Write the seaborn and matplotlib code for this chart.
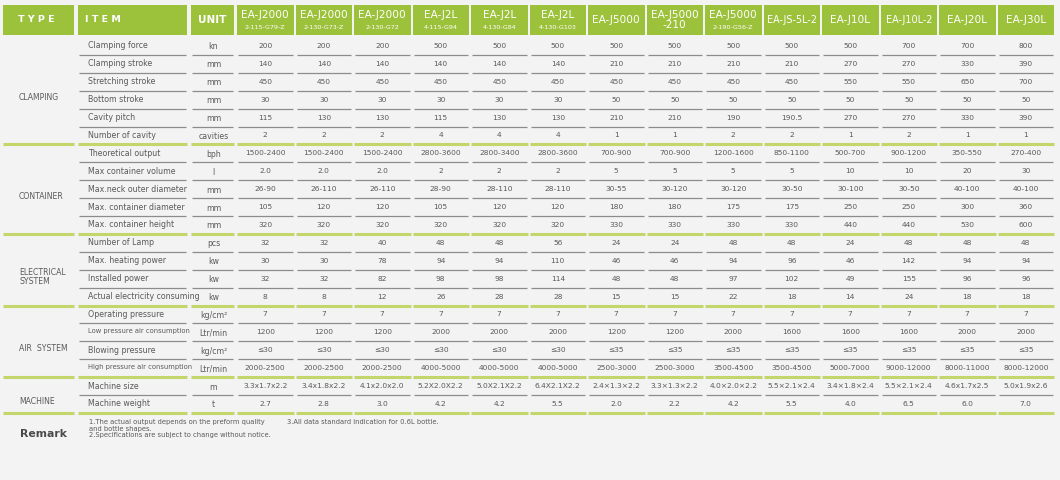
import matplotlib
matplotlib.use("Agg")
import matplotlib.pyplot as plt
from matplotlib.patches import Rectangle
import seaborn as sns
import numpy as np

# ---------------- data ----------------
models = ["EA-J2000", "EA-J2000", "EA-J2000", "EA-J2L", "EA-J2L", "EA-J2L", "EA-J5000",
          "EA-J5000\n-210", "EA-J5000", "EA-JS-5L-2", "EA-J10L", "EA-J10L-2", "EA-J20L", "EA-J30L"]
model_subs = ["2-115-G79-Z", "2-130-G73-Z", "2-130-G72", "4-115-G94", "4-130-G84", "4-130-G103",
              "", "", "2-190-G56-Z", "", "", "", "", ""]

groups = ["CLAMPING", "CONTAINER", "ELECTRICAL\nSYSTEM", "AIR  SYSTEM", "MACHINE"]
group_sizes = [6, 5, 4, 4, 2]

items = ["Clamping force", "Clamping stroke", "Stretching stroke", "Bottom stroke", "Cavity pitch",
         "Number of cavity",
         "Theoretical output", "Max container volume", "Max.neck outer diameter",
         "Max. container diameter", "Max. container height",
         "Number of Lamp", "Max. heating power", "Installed power", "Actual electricity consuming",
         "Operating pressure", "Low pressure air consumption", "Blowing pressure",
         "High pressure air consumption",
         "Machine size", "Machine weight"]
units = ["kn", "mm", "mm", "mm", "mm", "cavities",
         "bph", "l", "mm", "mm", "mm",
         "pcs", "kw", "kw", "kw",
         "kg/cm²", "Ltr/min", "kg/cm²", "Ltr/min",
         "m", "t"]

clamping_force = ["200", "200", "200", "500", "500", "500", "500", "500", "500", "500", "500", "700", "700", "800"]
clamping_stroke = ["140", "140", "140", "140", "140", "140", "210", "210", "210", "210", "270", "270", "330", "390"]
stretching_stroke = ["450", "450", "450", "450", "450", "450", "450", "450", "450", "450", "550", "550", "650", "700"]
bottom_stroke = ["30", "30", "30", "30", "30", "30", "50", "50", "50", "50", "50", "50", "50", "50"]
cavity_pitch = ["115", "130", "130", "115", "130", "130", "210", "210", "190", "190.5", "270", "270", "330", "390"]
num_cavity = ["2", "2", "2", "4", "4", "4", "1", "1", "2", "2", "1", "2", "1", "1"]
theoretical_output = ["1500-2400", "1500-2400", "1500-2400", "2800-3600", "2800-3400", "2800-3600", "700-900",
                      "700-900", "1200-1600", "850-1100", "500-700", "900-1200", "350-550", "270-400"]
container_volume = ["2.0", "2.0", "2.0", "2", "2", "2", "5", "5", "5", "5", "10", "10", "20", "30"]
neck_diameter = ["26-90", "26-110", "26-110", "28-90", "28-110", "28-110", "30-55", "30-120", "30-120",
                 "30-50", "30-100", "30-50", "40-100", "40-100"]
container_diameter = ["105", "120", "120", "105", "120", "120", "180", "180", "175", "175", "250", "250", "300", "360"]
container_height = ["320", "320", "320", "320", "320", "320", "330", "330", "330", "330", "440", "440", "530", "600"]
num_lamp = ["32", "32", "40", "48", "48", "56", "24", "24", "48", "48", "24", "48", "48", "48"]
heating_power = ["30", "30", "78", "94", "94", "110", "46", "46", "94", "96", "46", "142", "94", "94"]
installed_power = ["32", "32", "82", "98", "98", "114", "48", "48", "97", "102", "49", "155", "96", "96"]
actual_consuming = ["8", "8", "12", "26", "28", "28", "15", "15", "22", "18", "14", "24", "18", "18"]
operating_pressure = ["7", "7", "7", "7", "7", "7", "7", "7", "7", "7", "7", "7", "7", "7"]
low_air = ["1200", "1200", "1200", "2000", "2000", "2000", "1200", "1200", "2000", "1600", "1600", "1600",
           "2000", "2000"]
blowing_pressure = ["≤30", "≤30", "≤30", "≤30", "≤30", "≤30", "≤35", "≤35", "≤35", "≤35", "≤35", "≤35",
                    "≤35", "≤35"]
high_air = ["2000-2500", "2000-2500", "2000-2500", "4000-5000", "4000-5000", "4000-5000", "2500-3000",
            "2500-3000", "3500-4500", "3500-4500", "5000-7000", "9000-12000", "8000-11000", "8000-12000"]
machine_size = ["3.3x1.7x2.2", "3.4x1.8x2.2", "4.1x2.0x2.0", "5.2X2.0X2.2", "5.0X2.1X2.2", "6.4X2.1X2.2",
                "2.4×1.3×2.2", "3.3×1.3×2.2", "4.0×2.0×2.2", "5.5×2.1×2.4", "3.4×1.8×2.4", "5.5×2.1×2.4",
                "4.6x1.7x2.5", "5.0x1.9x2.6"]
machine_weight = ["2.7", "2.8", "3.0", "4.2", "4.2", "5.5", "2.0", "2.2", "4.2", "5.5", "4.0", "6.5", "6.0", "7.0"]

values = [clamping_force, clamping_stroke, stretching_stroke, bottom_stroke, cavity_pitch, num_cavity,
          theoretical_output, container_volume, neck_diameter, container_diameter, container_height,
          num_lamp, heating_power, installed_power, actual_consuming,
          operating_pressure, low_air, blowing_pressure, high_air,
          machine_size, machine_weight]

remark_left = ("1.The actual output depends on the preform quality\n"
               "and bottle shapes.\n"
               "2.Specifications are subject to change without notice.")
remark_right = "3.All data standard indication for 0.6L bottle."

# ---------------- style ----------------
sns.set_theme(style="white")
plt.rcParams["font.family"] = ["DejaVu Sans"]

GREEN = "#9cc13b"
LINE_GREEN = "#c3d66a"
GREY_LINE = "#8c8c8c"
TXT = "#5a5a5a"
BG = "#f3f3f3"

# layout (pixel-like canvas)
W, H = 1060, 480
fig = plt.figure(figsize=(W / 100, H / 100), dpi=100)
fig.patch.set_facecolor(BG)
ax = fig.add_axes([0, 0, 1, 1])
ax.set_xlim(0, W)
ax.set_ylim(H, 0)
ax.axis("off")
ax.set_facecolor(BG)

type_x = (3, 76)
item_x = (78, 189)
unit_x = (191, 236)
n_models = len(models)
model_edges = np.linspace(237, 1056, n_models + 1)
head_top, head_bot = 5, 35
row_top = 37.0
row_h = 17.9
gap = 2.0

fixed_cols = [type_x, item_x, unit_x]
model_cols = [(model_edges[i], model_edges[i + 1]) for i in range(n_models)]

# header cells
for (x0, x1) in fixed_cols + model_cols:
    ax.add_patch(Rectangle((x0, head_top), x1 - x0 - gap, head_bot - head_top,
                           facecolor=GREEN, edgecolor="none"))

hc = (head_top + head_bot) / 2
ax.text(type_x[0] + 15, hc, "T Y P E", color="white", fontsize=6.8, fontweight="bold", va="center", ha="left")
ax.text(item_x[0] + 7, hc, "I T E M", color="white", fontsize=6.8, fontweight="bold", va="center", ha="left")
ax.text((unit_x[0] + unit_x[1]) / 2 - 1, hc, "UNIT", color="white", fontsize=7.5, fontweight="bold",
        va="center", ha="center")

for i, (name, sub) in enumerate(zip(models, model_subs)):
    x0, x1 = model_cols[i]
    xc = (x0 + x1 - gap) / 2
    if sub:
        ax.text(xc, hc - 5, name, color="white", fontsize=7.6, va="center", ha="center")
        ax.text(xc, hc + 7.5, sub, color="white", fontsize=4.6, va="center", ha="center")
    elif "\n" in name:
        ax.text(xc, hc, name, color="white", fontsize=7.6, va="center", ha="center", linespacing=0.95)
    else:
        fs = 7.6 if len(name) < 9 else 6.9
        ax.text(xc, hc, name, color="white", fontsize=fs, va="center", ha="center")

# rows
row = 0
for g, (gname, gsize) in enumerate(zip(groups, group_sizes)):
    g_start = row_top + row * row_h
    g_end = row_top + (row + gsize) * row_h
    ax.text(type_x[0] + 16, (g_start + g_end) / 2 + 7, gname, color=TXT, fontsize=5.6,
            va="center", ha="left", linespacing=1.0)
    for r in range(row, row + gsize):
        yc = row_top + (r + 0.5) * row_h
        small = "air consumption" in items[r]
        ifs = 4.9 if small else 5.7
        ax.text(item_x[0] + 10, yc - (1 if small else 0), items[r], color=TXT, fontsize=ifs,
                va="center", ha="left")
        ax.text((unit_x[0] + unit_x[1]) / 2, yc + 1, units[r], color=TXT, fontsize=5.6,
                va="center", ha="center")
        for i, v in enumerate(values[r]):
            x0, x1 = model_cols[i]
            ax.text((x0 + x1 - gap) / 2, yc, v, color=TXT, fontsize=5.4, va="center", ha="center")
        yl = row_top + (r + 1) * row_h
        last = (r == row + gsize - 1)
        cols = (fixed_cols if last else fixed_cols[1:]) + model_cols
        for (x0, x1) in cols:
            if last:
                ax.plot([x0, x1 - gap], [yl, yl], color=LINE_GREEN, lw=2.2, solid_capstyle="butt")
            else:
                ax.plot([x0 + 1, x1 - gap - 1], [yl, yl], color=GREY_LINE, lw=0.9, solid_capstyle="butt")
    row += gsize

# remark
table_bottom = row_top + row * row_h
ax.text(type_x[0] + 17, table_bottom + 21, "Remark", color="#4a4a4a", fontsize=7.8, fontweight="bold",
        va="center", ha="left")
ax.text(item_x[0] + 11, table_bottom + 6, remark_left, color=TXT, fontsize=4.9, va="top", ha="left",
        linespacing=1.15)
ax.text(287, table_bottom + 6, remark_right, color=TXT, fontsize=4.9, va="top", ha="left")

fig.savefig("out.png", dpi=100, facecolor=BG)
